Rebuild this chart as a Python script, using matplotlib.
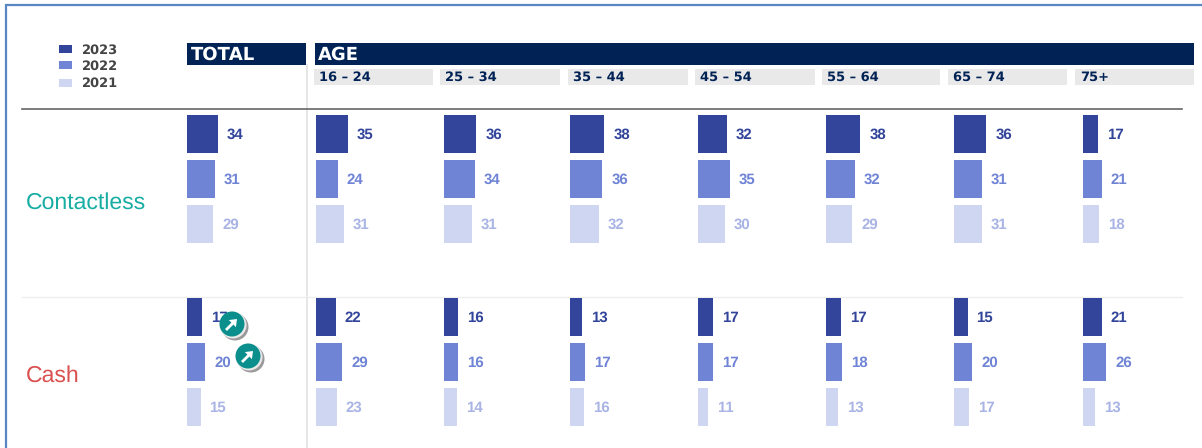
import matplotlib
matplotlib.use("Agg")
import matplotlib.pyplot as plt
from matplotlib.patches import Circle, Rectangle, FancyArrow

plt.rcParams['font.family'] = ['Liberation Sans', 'DejaVu Sans']
plt.rcParams['text.hinting'] = 'no_hinting'
plt.rcParams['text.hinting_factor'] = 1

# data
years = ['2023', '2022', '2021']
age_groups = ['16 – 24', '25 – 34', '35 – 44', '45 – 54', '55 – 64', '65 – 74', '75+']
contactless_2023 = [34, 35, 36, 38, 32, 38, 36, 17]
contactless_2022 = [31, 24, 34, 36, 35, 32, 31, 21]
contactless_2021 = [29, 31, 31, 32, 30, 29, 31, 18]
cash_2023 = [17, 22, 16, 13, 17, 17, 15, 21]
cash_2022 = [20, 29, 16, 17, 17, 18, 20, 26]
cash_2021 = [15, 23, 14, 16, 11, 13, 17, 13]

# styles
colors = ['#32459b', '#7084d6', '#cfd6f1']
label_colors = ['#32459b', '#7084d6', '#a9b4e4']
navy = '#002255'
wide = ['DejaVu Sans']
col_left = [187, 316, 444, 570, 698, 826, 954, 1083]
grey_left = [314, 440, 568, 695, 822, 948, 1075]
grey_right = [433, 560, 688, 815, 940, 1067, 1194]
px_per_unit = 0.9
bar_h = 38

fig = plt.figure(figsize=(12.02, 4.48), dpi=100)
ax = fig.add_axes([0, 0, 1, 1])
ax.set_xlim(0, 1202)
ax.set_ylim(448, 0)
ax.axis('off')

# frame
ax.plot([6, 6, 1202], [448, 5, 5], color='#5b86c6', lw=1.6, solid_joinstyle='miter')

# legend
for i, (yr, y) in enumerate(zip(years, [49.5, 65.5, 83])):
    ax.add_patch(Rectangle((59, y - 4), 13, 8, facecolor=colors[i], lw=0))
    ax.text(82, y + 0.5, yr, fontsize=9.4, fontweight='bold', color='#444444',
            va='center', family=wide)

# headers
ax.add_patch(Rectangle((187, 43), 119, 22, facecolor=navy, lw=0))
ax.add_patch(Rectangle((315, 43), 879, 22, facecolor=navy, lw=0))
ax.text(191, 54.5, 'TOTAL', fontsize=13, fontweight='bold', color='white', va='center', family=wide)
ax.text(318, 54.5, 'AGE', fontsize=13, fontweight='bold', color='white', va='center', family=wide)
for lab, l, r in zip(age_groups, grey_left, grey_right):
    ax.add_patch(Rectangle((l, 69), r - l, 16, facecolor='#e9e9e9', lw=0))
    ax.text(l + 5, 77.5, lab, fontsize=9.6, fontweight='bold', color=navy, va='center', family=wide)

# rules
ax.plot([306.5, 306.5], [65, 448], color='#e2e2e2', lw=1.2, zorder=1)
ax.plot([22, 1182], [109, 109], color='#666666', lw=1.2, zorder=1.5)
ax.plot([22, 1182], [297, 297], color='#eeeeee', lw=1, zorder=1)

# row labels
ax.text(26, 203, 'Contactless', fontsize=16.4, color='#17ada3', va='center')
ax.text(26, 375.5, 'Cash', fontsize=16.4, color='#d9504f', va='center')

# bars
rows = [
    (contactless_2023, 115, 0), (contactless_2022, 160, 1), (contactless_2021, 205, 2),
    (cash_2023, 298, 0), (cash_2022, 343, 1), (cash_2021, 388, 2),
]
for vals, top, c in rows:
    for x0, v in zip(col_left, vals):
        w = v * px_per_unit
        ax.barh(top + bar_h / 2, w, height=bar_h, left=x0, color=colors[c], lw=0, zorder=2)
        ax.text(x0 + w + 9, top + bar_h / 2 + 1, str(v), fontsize=10.5,
                fontweight='bold', color=label_colors[c], va='center', ha='left', zorder=3)

# arrow badges (significant change markers)
for cx, cy in [(232, 324), (248, 356)]:
    ax.add_patch(Circle((cx + 3, cy + 3), 13.5, facecolor='#9a9a9a', lw=0, zorder=4))
    ax.add_patch(Circle((cx + 1, cy + 1), 13.5, facecolor='#e8e8e8', lw=0, zorder=5))
    ax.add_patch(Circle((cx, cy), 12.5, facecolor='#0b8f8c', lw=0, zorder=6))
    ax.add_patch(FancyArrow(cx - 6, cy + 6, 11, -11, width=2.8, head_width=10,
                            head_length=6.5, length_includes_head=True,
                            facecolor='white', lw=0, zorder=7))

fig.savefig('out.png', dpi=100, facecolor='white')
